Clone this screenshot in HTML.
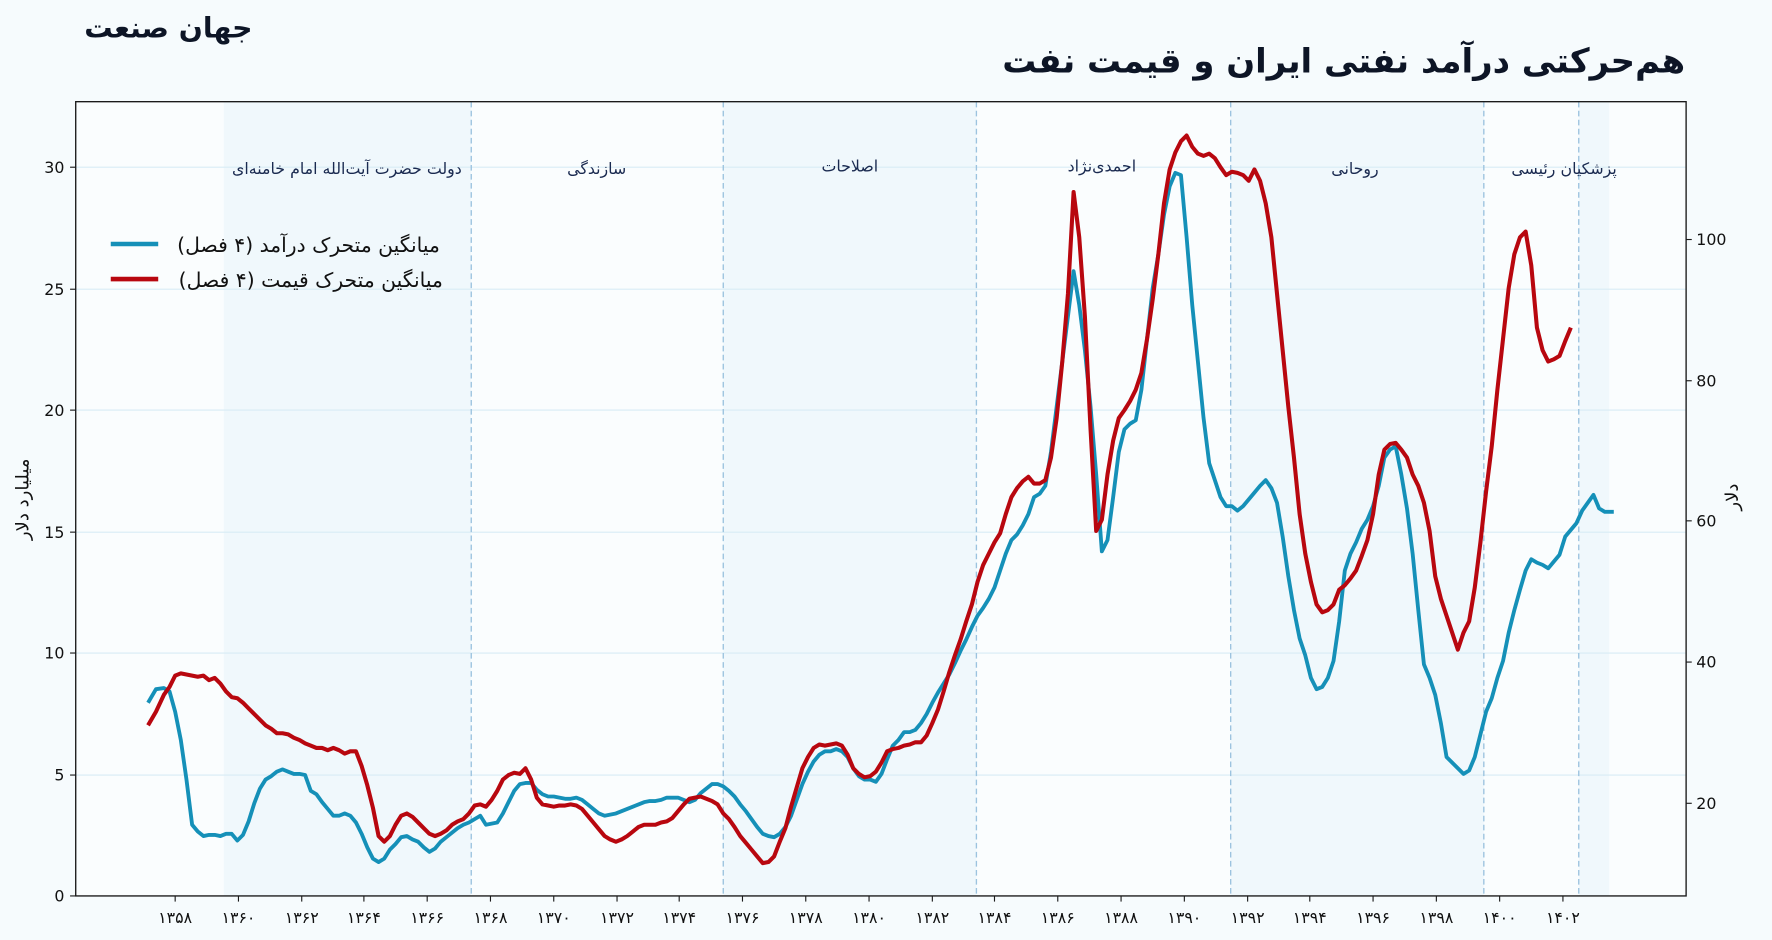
<!DOCTYPE html>
<html><head><meta charset="utf-8"><style>
html,body{margin:0;padding:0;background:#f6fbfd;}
svg{display:block;}
text{font-family:"DejaVu Sans",sans-serif;}
</style></head><body>
<svg width="1772" height="940" viewBox="0 0 1568 832" preserveAspectRatio="none" xmlns="http://www.w3.org/2000/svg">
<rect x="0" y="0" width="1568" height="832" fill="#f6fbfd"/>
<text x="149" y="33" font-size="25" font-weight="bold" fill="#0d1526" text-anchor="middle" direction="rtl">جهان صنعت</text>
<text x="1189" y="64" font-size="30" font-weight="bold" fill="#0d1526" text-anchor="middle" direction="rtl">هم‌حرکتی درآمد نفتی ایران و قیمت نفت</text>
<rect x="67" y="90" width="1425" height="703" fill="#fafdfe"/>
<rect x="198" y="90" width="219" height="703" fill="#f0f8fc"/>
<rect x="640" y="90" width="224" height="703" fill="#f0f8fc"/>
<rect x="1089" y="90" width="224" height="703" fill="#f0f8fc"/>
<rect x="1397" y="90" width="27" height="703" fill="#f0f8fc"/>
<g stroke="#d8ecf5" stroke-width="1">
<line x1="67" x2="1492" y1="148" y2="148"/><line x1="67" x2="1492" y1="256" y2="256"/><line x1="67" x2="1492" y1="363" y2="363"/><line x1="67" x2="1492" y1="471" y2="471"/><line x1="67" x2="1492" y1="578" y2="578"/><line x1="67" x2="1492" y1="686" y2="686"/>
</g>
<g stroke="#9cc3df" stroke-width="1.2" stroke-dasharray="5,3">
<line x1="417" x2="417" y1="90" y2="793"/><line x1="640" x2="640" y1="90" y2="793"/><line x1="864" x2="864" y1="90" y2="793"/><line x1="1089" x2="1089" y1="90" y2="793"/><line x1="1313" x2="1313" y1="90" y2="793"/><line x1="1397" x2="1397" y1="90" y2="793"/>
</g>
<g font-size="14" fill="#1a2a50" text-anchor="middle">
<text x="307" y="154" direction="rtl">دولت حضرت آیت‌الله امام خامنه‌ای</text>
<text x="528" y="154" direction="rtl">سازندگی</text>
<text x="752" y="152" direction="rtl">اصلاحات</text>
<text x="975" y="152" direction="rtl">احمدی‌نژاد</text>
<text x="1199" y="154" direction="rtl">روحانی</text>
<text x="1384" y="154" direction="rtl">پزشکیان رئیسی</text>
</g>
<rect x="67" y="90" width="1425" height="703" fill="none" stroke="#1a1a1a" stroke-width="1.2"/>
<g stroke="#1a1a1a" stroke-width="1"><line x1="62" x2="67" y1="793" y2="793"/><line x1="62" x2="67" y1="686" y2="686"/><line x1="62" x2="67" y1="578" y2="578"/><line x1="62" x2="67" y1="471" y2="471"/><line x1="62" x2="67" y1="363" y2="363"/><line x1="62" x2="67" y1="256" y2="256"/><line x1="62" x2="67" y1="148" y2="148"/>
<line x1="1492" x2="1497" y1="212" y2="212"/><line x1="1492" x2="1497" y1="337" y2="337"/><line x1="1492" x2="1497" y1="461" y2="461"/><line x1="1492" x2="1497" y1="586" y2="586"/><line x1="1492" x2="1497" y1="711" y2="711"/>
</g>
<g font-size="14" fill="#111" text-anchor="end">
<text x="57" y="798">0</text><text x="57" y="691">5</text><text x="57" y="583">10</text><text x="57" y="476">15</text><text x="57" y="368">20</text><text x="57" y="261">25</text><text x="57" y="153">30</text>
</g>
<g font-size="14" fill="#111">
<text x="1501" y="217">100</text><text x="1501" y="342">80</text><text x="1501" y="466">60</text><text x="1501" y="591">40</text><text x="1501" y="716">20</text>
</g>
<text transform="translate(25,442) rotate(-90)" font-size="16" fill="#111" text-anchor="middle" direction="rtl">میلیارد دلار</text>
<text transform="translate(1538,440) rotate(-90)" font-size="16" fill="#111" text-anchor="middle" direction="rtl">دلار</text>
<g stroke="#1a1a1a"><line x1="155" x2="155" y1="793" y2="798"/><line x1="211" x2="211" y1="793" y2="798"/><line x1="267" x2="267" y1="793" y2="798"/><line x1="322" x2="322" y1="793" y2="798"/><line x1="378" x2="378" y1="793" y2="798"/><line x1="434" x2="434" y1="793" y2="798"/><line x1="490" x2="490" y1="793" y2="798"/><line x1="546" x2="546" y1="793" y2="798"/><line x1="601" x2="601" y1="793" y2="798"/><line x1="657" x2="657" y1="793" y2="798"/><line x1="713" x2="713" y1="793" y2="798"/><line x1="769" x2="769" y1="793" y2="798"/><line x1="825" x2="825" y1="793" y2="798"/><line x1="880" x2="880" y1="793" y2="798"/><line x1="936" x2="936" y1="793" y2="798"/><line x1="992" x2="992" y1="793" y2="798"/><line x1="1048" x2="1048" y1="793" y2="798"/><line x1="1104" x2="1104" y1="793" y2="798"/><line x1="1159" x2="1159" y1="793" y2="798"/><line x1="1215" x2="1215" y1="793" y2="798"/><line x1="1271" x2="1271" y1="793" y2="798"/><line x1="1327" x2="1327" y1="793" y2="798"/><line x1="1383" x2="1383" y1="793" y2="798"/></g>
<g font-size="14" fill="#111" text-anchor="middle">
<text x="155" y="817">۱۳۵۸</text><text x="211" y="817">۱۳۶۰</text><text x="267" y="817">۱۳۶۲</text><text x="322" y="817">۱۳۶۴</text><text x="378" y="817">۱۳۶۶</text><text x="434" y="817">۱۳۶۸</text><text x="490" y="817">۱۳۷۰</text><text x="546" y="817">۱۳۷۲</text><text x="601" y="817">۱۳۷۴</text><text x="657" y="817">۱۳۷۶</text><text x="713" y="817">۱۳۷۸</text><text x="769" y="817">۱۳۸۰</text><text x="825" y="817">۱۳۸۲</text><text x="880" y="817">۱۳۸۴</text><text x="936" y="817">۱۳۸۶</text><text x="992" y="817">۱۳۸۸</text><text x="1048" y="817">۱۳۹۰</text><text x="1104" y="817">۱۳۹۲</text><text x="1159" y="817">۱۳۹۴</text><text x="1215" y="817">۱۳۹۶</text><text x="1271" y="817">۱۳۹۸</text><text x="1327" y="817">۱۴۰۰</text><text x="1383" y="817">۱۴۰۲</text>
</g>
<polyline fill="none" stroke="#1590b8" stroke-width="3.4" stroke-linejoin="round" points="131,622 138,610 145,609 150,612 155,630 160,655 165,690 170,730 175,736 180,740 185,739 190,739 195,740 200,738 205,738 210,744 215,739 220,727 225,711 230,698 235,690 240,687 245,683 250,681 255,683 260,685 265,685 270,686 275,700 280,703 285,710 290,716 295,722 300,722 305,720 310,722 315,728 320,738 325,750 330,760 335,763 340,760 345,752 350,747 355,741 360,740 365,743 370,745 375,750 380,754 385,751 390,745 395,741 400,737 405,733 410,730 415,728 420,725 425,722 430,730 435,729 440,728 445,720 450,710 455,700 460,694 465,693 470,693 475,699 480,703 485,705 490,705 495,706 500,707 505,707 510,706 515,708 520,712 525,716 530,720 535,722 540,721 545,720 550,718 555,716 560,714 565,712 570,710 575,709 580,709 585,708 590,706 600,706 610,710 615,708 620,702 625,698 630,694 635,694 640,696 645,700 650,705 655,712 660,718 665,725 670,732 675,738 680,740 685,741 690,738 695,732 700,722 705,708 710,694 715,683 720,674 725,668 730,665 735,665 740,663 745,665 750,670 755,680 760,687 765,690 770,690 775,692 780,685 785,672 790,660 795,655 800,648 805,648 810,646 815,640 820,632 825,622 830,613 835,605 840,597 845,587 850,576 855,566 860,555 865,545 870,538 875,530 880,520 885,505 890,490 895,478 900,473 905,465 910,455 915,440 920,437 925,430 930,400 935,360 940,320 945,280 950,240 955,270 960,310 965,360 970,420 975,488 980,478 985,440 990,400 995,380 1000,375 1005,372 1010,345 1015,300 1020,255 1025,225 1030,190 1035,165 1040,153 1045,155 1050,210 1055,270 1060,320 1065,370 1070,410 1075,425 1080,440 1085,448 1090,448 1095,452 1100,448 1105,442 1110,436 1115,430 1120,425 1125,432 1130,445 1135,475 1140,510 1145,540 1150,565 1155,580 1160,600 1165,610 1170,608 1175,600 1180,585 1185,550 1190,505 1195,490 1200,480 1205,468 1210,460 1215,448 1220,430 1225,405 1230,398 1235,395 1240,420 1245,450 1250,490 1255,540 1260,588 1265,600 1270,615 1275,640 1280,670 1285,675 1290,680 1295,685 1300,682 1305,670 1310,650 1315,630 1320,618 1325,600 1330,585 1335,560 1340,540 1345,522 1350,505 1355,495 1360,498 1365,500 1370,503 1375,497 1380,491 1385,475 1390,469 1395,463 1400,452 1405,445 1410,438 1415,450 1420,453 1428,453"/>
<polyline fill="none" stroke="#b8070f" stroke-width="3.6" stroke-linejoin="round" points="131,642 138,630 145,615 150,608 155,598 160,596 165,597 170,598 175,599 180,598 185,602 190,600 195,605 200,612 205,617 210,618 215,622 220,627 225,632 230,637 235,642 240,645 245,649 250,649 255,650 260,653 265,655 270,658 275,660 280,662 285,662 290,664 295,662 300,664 305,667 310,665 315,665 320,678 325,695 330,715 335,740 340,745 345,740 350,730 355,722 360,720 365,723 370,728 375,733 380,738 385,740 390,738 395,735 400,730 405,727 410,725 415,720 420,713 425,712 430,714 435,708 440,700 445,690 450,686 455,684 460,685 465,680 470,690 475,706 480,712 485,713 490,714 495,713 500,713 505,712 510,713 515,716 520,722 525,728 530,734 535,740 540,743 545,745 550,743 555,740 560,736 565,732 570,730 575,730 580,730 585,728 590,727 595,724 600,718 605,712 610,707 615,706 620,705 625,707 630,709 635,712 640,720 645,725 650,732 655,740 660,746 665,752 670,758 675,764 680,763 685,758 690,745 695,733 700,714 705,697 710,680 715,670 720,662 725,659 730,660 735,659 740,658 745,660 750,668 755,680 760,685 765,688 770,687 775,683 780,675 785,665 790,663 795,662 800,660 805,659 810,657 815,657 820,651 825,640 830,628 835,612 840,595 845,580 850,566 855,550 860,535 865,515 870,500 875,490 880,480 885,472 890,455 895,440 900,432 905,426 910,422 915,428 920,428 925,425 930,405 935,370 940,320 945,260 950,170 955,210 960,280 965,380 970,470 975,460 980,420 985,390 990,370 995,363 1000,355 1005,345 1010,330 1015,300 1020,265 1025,225 1030,180 1035,150 1040,135 1045,125 1050,120 1055,130 1060,136 1065,138 1070,136 1075,140 1080,148 1085,155 1090,152 1095,153 1100,155 1105,160 1110,150 1115,160 1120,180 1125,210 1130,260 1135,310 1140,360 1145,405 1150,455 1155,490 1160,515 1165,535 1170,542 1175,540 1180,535 1185,522 1190,518 1195,512 1200,505 1205,492 1210,478 1215,455 1220,420 1225,398 1230,393 1235,392 1240,398 1245,405 1250,420 1255,430 1260,445 1265,470 1270,510 1275,530 1280,545 1285,560 1290,575 1295,560 1300,550 1305,520 1310,480 1315,435 1320,395 1325,345 1330,300 1335,255 1340,225 1345,210 1350,205 1355,235 1360,290 1365,310 1370,320 1375,318 1380,315 1385,302 1390,290"/>
<line x1="98" x2="140" y1="216" y2="216" stroke="#1590b8" stroke-width="4"/>
<line x1="98" x2="140" y1="247" y2="247" stroke="#b8070f" stroke-width="4"/>
<g font-size="18" fill="#111" text-anchor="middle">
<text x="273" y="223" direction="rtl">میانگین متحرک درآمد (۴ فصل)</text>
<text x="275" y="254" direction="rtl">میانگین متحرک قیمت (۴ فصل)</text>
</g>
</svg>
</body></html>
